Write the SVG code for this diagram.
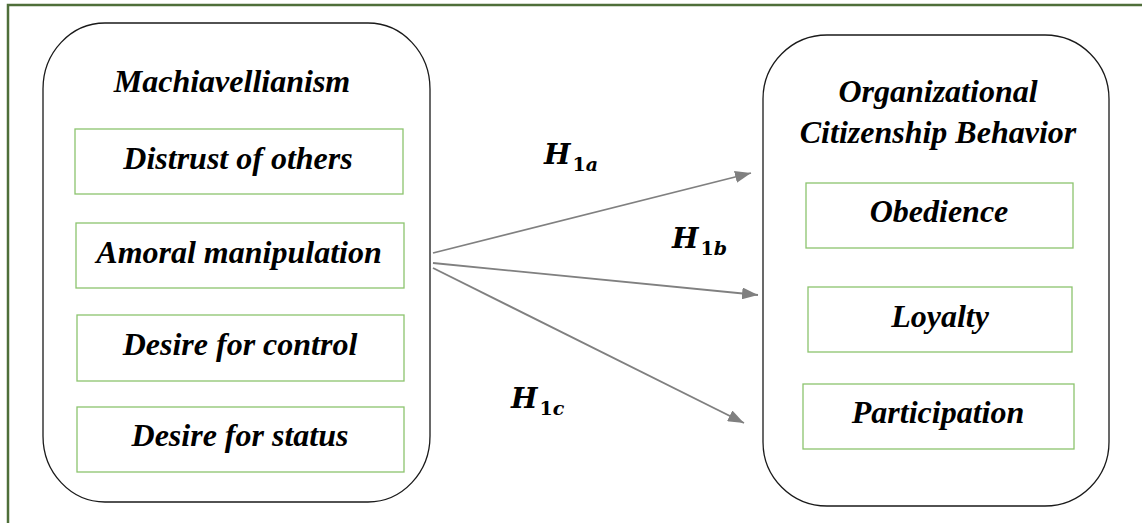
<svg xmlns="http://www.w3.org/2000/svg" width="1142" height="523" viewBox="0 0 1142 523">
<style>
.frame{fill:none;stroke:#4f6f3a;stroke-width:2.5}
.group{fill:#fff;stroke:#1a1a1a;stroke-width:1.3}
.item{fill:#fff;stroke:#8cc46e;stroke-width:1.3}
.t{font-family:"Liberation Serif","Times New Roman",serif;font-weight:bold;font-style:italic;fill:#000;text-anchor:middle}
.big{font-size:32px}
.mid{font-size:32px}
.conn{stroke:#808080;stroke-width:1.8;fill:none}
.h{font-family:"DejaVu Serif",serif;font-weight:bold;font-style:italic;fill:#000}
.sub{font-size:19px;font-style:normal}
.subi{font-size:19px;font-style:italic}
</style>
<defs>
<marker id="ahL" viewBox="0 0 10 10" refX="10" refY="5" markerWidth="16" markerHeight="12" markerUnits="userSpaceOnUse" orient="auto" preserveAspectRatio="none">
<path d="M0,0 L10,5 L0,10 z" fill="#808080"/>
</marker>
<clipPath id="clipb"><rect x="600" y="200" width="200" height="55"/></clipPath>
</defs>
<rect width="1142" height="523" fill="#fff"/>
<rect class="frame" x="8" y="5" width="1160" height="540"/>

<g id="machiavellianism">
<rect class="group" x="43" y="23" width="387" height="479" rx="62" ry="66"/>
<text class="t big" x="232" y="92">Machiavellianism</text>
</g>
<g id="distrust">
<rect class="item" x="75" y="129" width="328" height="65"/>
<text class="t mid" x="238" y="169">Distrust of others</text>
</g>
<g id="amoral">
<rect class="item" x="76" y="223" width="328" height="65"/>
<text class="t mid" x="239" y="263">Amoral manipulation</text>
</g>
<g id="control">
<rect class="item" x="77" y="315" width="327" height="66"/>
<text class="t mid" x="240" y="355">Desire for control</text>
</g>
<g id="status">
<rect class="item" x="77" y="407" width="327" height="65"/>
<text class="t mid" x="240" y="446">Desire for status</text>
</g>

<g id="ocb">
<rect class="group" x="763" y="35" width="346" height="471" rx="64" ry="64"/>
<text class="t big" x="938" y="102">Organizational</text>
<text class="t big" x="938" y="143">Citizenship Behavior</text>
</g>
<g id="obedience">
<rect class="item" x="806" y="183" width="267" height="65"/>
<text class="t mid" x="939" y="222">Obedience</text>
</g>
<g id="loyalty">
<rect class="item" x="808" y="287" width="264" height="65"/>
<text class="t mid" x="940" y="327">Loyalty</text>
</g>
<g id="participation">
<rect class="item" x="803" y="384" width="271" height="65"/>
<text class="t mid" x="938" y="423">Participation</text>
</g>

<g id="connectors">
<line class="conn" x1="433" y1="253" x2="751" y2="173" marker-end="url(#ahL)"/>
<line class="conn" x1="433" y1="263" x2="758" y2="295" marker-end="url(#ahL)"/>
<line class="conn" x1="433" y1="268" x2="744" y2="423" marker-end="url(#ahL)"/>
</g>

<g id="labels">
<text class="h" x="544" y="164" font-size="28">H<tspan class="sub" dx="2" dy="7">1</tspan><tspan class="subi">a</tspan></text>
<g clip-path="url(#clipb)">
<text class="h" x="672" y="248" font-size="28">H<tspan class="sub" dx="2" dy="7">1</tspan><tspan class="subi">b</tspan></text>
</g>
<text class="h" x="511" y="408" font-size="28">H<tspan class="sub" dx="2" dy="7">1</tspan><tspan class="subi">c</tspan></text>
</g>
</svg>
